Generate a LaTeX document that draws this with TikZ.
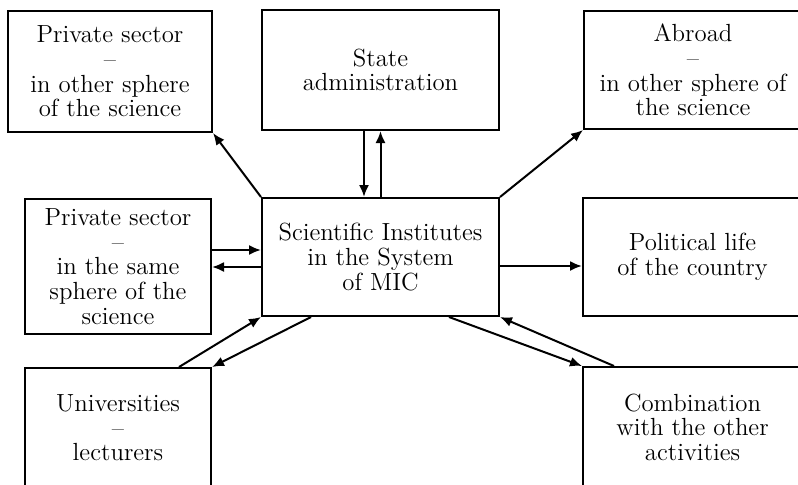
\documentclass[tikz,border=0pt]{standalone}
\usetikzlibrary{arrows.meta}
\begin{document}
\begin{tikzpicture}[x=0.5pt, y=-0.5pt,
        box/.style={draw, line width=1pt, align=center, inner sep=0pt,
            font=\fontsize{12.4}{12.3}\selectfont},
        link/.style={draw, line width=1pt, -{Latex[length=6pt,width=5pt]}}]
        \useasboundingbox (0,0) rectangle (798,484);
        \clip (0,0) rectangle (798,484);

        \node[box, minimum width=102pt, minimum height=60.5pt] (other) at (110,71.5) {Private sector\\--\\in other sphere\\of the science};
        \node[box, minimum width=118.5pt, minimum height=60pt] (state) at (380.5,70) {State\\administration};
        \node[box, minimum width=109pt, minimum height=59pt] (abroad) at (693,70) {Abroad\\--\\in other sphere of\\the science};
        \node[box, minimum width=93pt, minimum height=67.5pt] (same) at (118,266.5) {Private sector\\--\\in the same\\sphere of the\\science};
        \node[box, minimum width=118.5pt, minimum height=59pt] (sic) at (380.5,257) {Scientific Institutes\\in the System\\of MIC};
        \node[box, minimum width=109.5pt, minimum height=59pt] (pol) at (692.5,257) {Political life\\of the country};
        \node[box, minimum width=93pt, minimum height=60pt] (univ) at (118,428) {Universities\\--\\lecturers};
        \node[box, minimum width=109.5pt, minimum height=60pt] (comb) at (692.5,427) {Combination\\with the other\\activities};

        % upper links
        \path[link] (sic.north west) -- (other.south east);
        \path[link] (sic.north east) -- (abroad.south west);
        \path[link] ([xshift=-8.25pt]state.south) -- ([xshift=-8.25pt]sic.north);
        \path[link] (sic.north) -- (state.south);

        % side links
        \path[link] ([yshift=3.5pt]sic.west -| same.east) -- ([yshift=3.5pt]sic.west);
        \path[link] ([yshift=-5pt]sic.west) -- ([yshift=-5pt]sic.west -| same.east);
        \path[link] ([yshift=-4.5pt]sic.east) -- ([yshift=-4.5pt]sic.east -| pol.west);

        % lower links
        \path[link] ([xshift=-16.5pt]univ.north east) -- (sic.south west);
        \path[link] ([xshift=25pt]sic.south west) -- (univ.north east);
        \path[link] ([xshift=-25.5pt]sic.south east) -- (comb.north west);
        \path[link] ([xshift=16pt]comb.north west) -- (sic.south east);
\end{tikzpicture}
\end{document}
